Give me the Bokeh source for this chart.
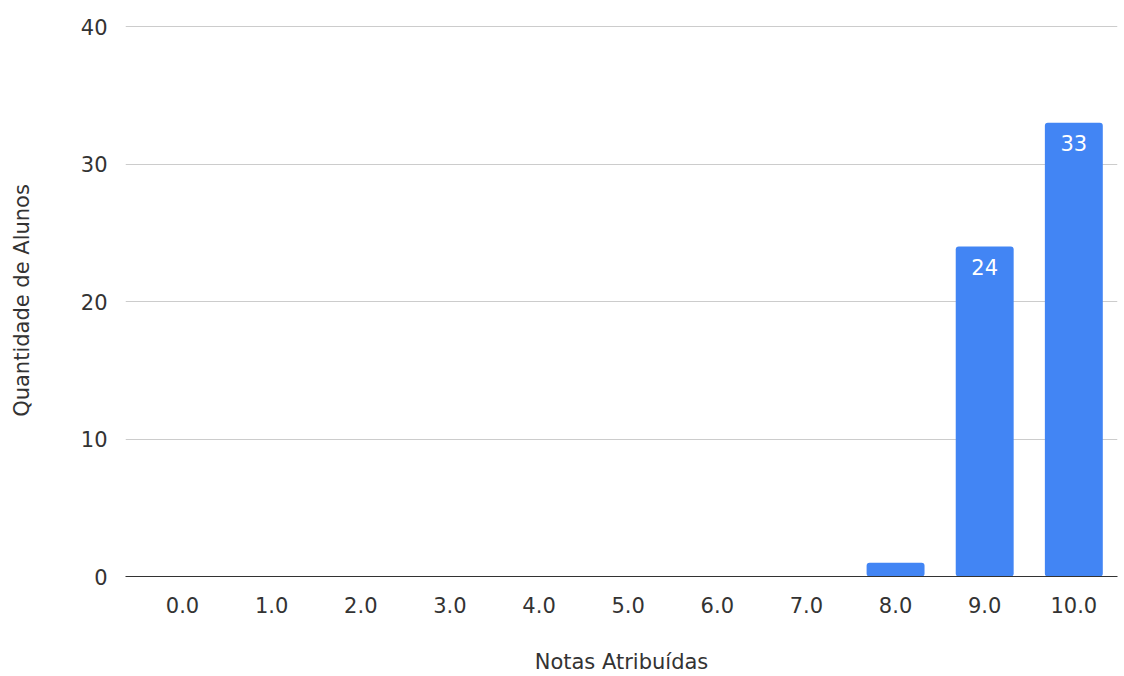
from bokeh.plotting import figure
from bokeh.models import ColumnDataSource, Range1d, LabelSet, FixedTicker
from bokeh.core.properties import value
from bokeh.embed import file_html
from bokeh.resources import INLINE

# Grade categories and number of students per grade
notas = ["0.0", "1.0", "2.0", "3.0", "4.0", "5.0", "6.0", "7.0", "8.0", "9.0", "10.0"]
alunos = [0, 0, 0, 0, 0, 0, 0, 0, 1, 24, 33]
y_ticks = [0, 10, 20, 30, 40]

FONT = "DejaVu Sans"
TEXT_SIZE = "21px"
BAR_COLOR = "#4285F4"
TEXT_COLOR = "#333333"

pos = list(range(len(notas)))
source = ColumnDataSource(dict(
    x=pos,
    top=alunos,
    label=[str(v) if v >= 5 else "" for v in alunos],
))

p = figure(
    width=1124, height=676,
    output_backend="svg", toolbar_location=None,
    x_range=Range1d(-0.64, len(notas) - 0.51),
    y_range=Range1d(0, 40.15),
    min_border_left=125, min_border_right=7,
    min_border_top=24, min_border_bottom=100,
)
p.outline_line_color = None
p.background_fill_color = "white"
p.border_fill_color = "white"

p.vbar(x="x", top="top", bottom=0, width=0.65, source=source,
       fill_color=BAR_COLOR, line_color=None, border_radius=3)

labels = LabelSet(x="x", y="top", text="label", source=source,
                  text_align="center", text_baseline="top", y_offset=-12,
                  text_color="white", text_font=value(FONT),
                  text_font_size=value(TEXT_SIZE))
p.add_layout(labels)

# x axis: category labels, dark baseline, no ticks
p.xaxis.ticker = FixedTicker(ticks=pos)
p.xaxis.major_label_overrides = {i: n for i, n in enumerate(notas)}
p.xaxis.axis_label = "Notas Atribuídas"
p.xaxis.axis_line_color = "#333333"
p.xaxis.major_tick_line_color = None
p.xaxis.minor_tick_line_color = None
p.xaxis.major_label_standoff = 14
p.xaxis.axis_label_standoff = 34
p.xgrid.grid_line_color = None

# y axis: counts, light gridlines, no axis line
p.yaxis.ticker = FixedTicker(ticks=y_ticks)
p.yaxis.axis_label = "Quantidade de Alunos"
p.yaxis.axis_line_color = None
p.yaxis.major_tick_line_color = None
p.yaxis.minor_tick_line_color = None
p.yaxis.major_label_standoff = 12
p.yaxis.axis_label_standoff = 44
p.ygrid.grid_line_color = "#cccccc"
p.ygrid.grid_line_width = 1

for ax in (p.xaxis, p.yaxis):
    ax.major_label_text_font = FONT
    ax.major_label_text_font_size = TEXT_SIZE
    ax.major_label_text_color = TEXT_COLOR
    ax.axis_label_text_font = FONT
    ax.axis_label_text_font_size = TEXT_SIZE
    ax.axis_label_text_font_style = "normal"
    ax.axis_label_text_color = TEXT_COLOR

open("out.html", "w").write(file_html(p, INLINE))
